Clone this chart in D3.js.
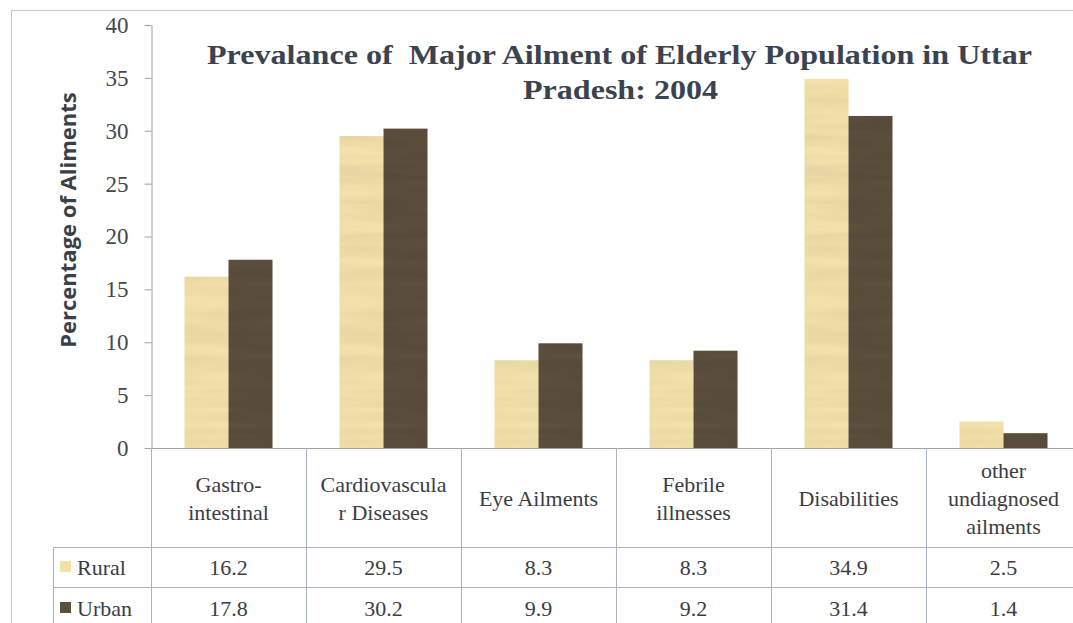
<!DOCTYPE html>
<html lang="en">
<head>
<meta charset="UTF-8">
<title>Prevalance of Major Ailment</title>
<script src="https://d3js.org/d3.v7.min.js"></script>
<style>
    body { margin:0; background:#fff; }
    svg { display:block; }
</style>
</head>
<body>
<svg width="1073" height="623"></svg>
<script>
    // data
    const categories = [["Gastro-", "intestinal"], ["Cardiovascula", "r Diseases"], ["Eye Ailments"],
                        ["Febrile", "illnesses"], ["Disabilities"], ["other", "undiagnosed", "ailments"]];
    const series = ["Rural", "Urban"];
    const rural = [16.2, 29.5, 8.3, 8.3, 34.9, 2.5];
    const urban = [17.8, 30.2, 9.9, 9.2, 31.4, 1.4];
    const yTicks = [0, 5, 10, 15, 20, 25, 30, 35, 40];
    const colors = {Rural: "#f3e1aa", Urban: "#5c4f3e"};

    const SERIF = "Liberation Serif";
    const svg = d3.select("svg");
    const lineCol = "#aab1c3";
    const textCol = "#3a3d44";

    // outer frame
    svg.append("rect").attr("x", 11.5).attr("y", 10.5).attr("width", 1080).attr("height", 640)
        .attr("fill", "none").attr("stroke", "#c4c8d2").attr("stroke-width", 1);

    // wood-ish texture
    const defs = svg.append("defs");
    const f = defs.append("filter").attr("id", "grain").attr("x", 0).attr("y", 0).attr("width", 1).attr("height", 1);
    f.append("feTurbulence").attr("type", "fractalNoise").attr("baseFrequency", "0.01 0.1")
        .attr("numOctaves", 2).attr("seed", 3).attr("result", "noise");
    f.append("feColorMatrix").attr("in", "noise").attr("type", "matrix")
        .attr("values", "0 0 0 0 0  0 0 0 0 0  0 0 0 0 0  0 0 0 0.22 -0.07").attr("result", "shade");
    f.append("feComposite").attr("in", "shade").attr("in2", "SourceGraphic").attr("operator", "in").attr("result", "s2");
    const m = f.append("feMerge");
    m.append("feMergeNode").attr("in", "SourceGraphic");
    m.append("feMergeNode").attr("in", "s2");

    const left = 151, colW = 155, base = 448, plotTop = 25;
    const x = d3.scaleBand().domain(d3.range(categories.length))
        .range([left, left + colW * categories.length]).padding(0);
    const xs = d3.scaleBand().domain(series).range([33.5, 121.5]).padding(0);
    const y = d3.scaleLinear().domain([0, 40]).range([base, plotTop]);

    // y axis
    const yAxis = d3.axisLeft(y).tickValues(yTicks).tickSize(7).tickPadding(16).tickSizeOuter(0);
    const ga = svg.append("g").attr("transform", `translate(${left + 0.5},0)`).call(yAxis)
        .attr("font-family", SERIF).attr("font-size", 23);
    ga.select(".domain").attr("stroke", "#9aa0ad");
    ga.selectAll(".tick line").attr("stroke", "#9aa0ad");
    ga.selectAll(".tick text").attr("fill", "#44474d");

    // y label
    svg.append("text")
        .attr("transform", "translate(76,220) rotate(-90)")
        .attr("text-anchor", "middle")
        .attr("font-family", "Open Sans").attr("font-weight", "bold").attr("font-size", 22)
        .attr("fill", "#3b3f47")
        .text("Percentage of Aliments");

    // title (the original is set wide, so stretch to its measured widths)
    const title = svg.append("text")
        .attr("font-family", SERIF).attr("font-weight", "bold").attr("font-size", 28)
        .attr("fill", "#3b4350");
    title.append("tspan").attr("x", 207).attr("y", 64)
        .attr("textLength", 825).attr("lengthAdjust", "spacingAndGlyphs")
        .text("Prevalance of\u00a0 Major Ailment of Elderly Population in Uttar");
    title.append("tspan").attr("x", 523).attr("y", 99)
        .attr("textLength", 195).attr("lengthAdjust", "spacingAndGlyphs")
        .text("Pradesh: 2004");

    // bars
    const data = categories.map((c, i) => ({i, Rural: rural[i], Urban: urban[i]}));
    svg.append("g").selectAll("g").data(data).join("g")
        .attr("transform", d => `translate(${x(d.i)},0)`)
        .selectAll("rect").data(d => series.map(s => ({s, v: d[s]}))).join("rect")
        .attr("x", d => xs(d.s)).attr("width", xs.bandwidth())
        .attr("y", d => y(d.v)).attr("height", d => base - y(d.v))
        .attr("fill", d => colors[d.s]).attr("filter", "url(#grain)");

    // data table
    const rowTop = [base, 547, 587, 627];
    const right = left + colW * categories.length;
    const tbl = svg.append("g").attr("stroke", lineCol).attr("stroke-width", 1).attr("fill", "none");
    tbl.append("line").attr("x1", left).attr("x2", right).attr("y1", base + 0.5).attr("y2", base + 0.5).attr("stroke", "#9aa0ad");
    [rowTop[1], rowTop[2], rowTop[3]].forEach(yy =>
        tbl.append("line").attr("x1", 53).attr("x2", right).attr("y1", yy + 0.5).attr("y2", yy + 0.5));
    tbl.append("line").attr("x1", 53.5).attr("x2", 53.5).attr("y1", rowTop[1]).attr("y2", 640);
    d3.range(categories.length + 1).forEach(k => {
        const xx = left + colW * k + 0.5;
        tbl.append("line").attr("x1", xx).attr("x2", xx).attr("y1", base).attr("y2", 640);
    });

    // header labels
    svg.append("g").selectAll("text").data(categories).join("text")
        .attr("text-anchor", "middle")
        .attr("font-family", SERIF).attr("font-size", 22).attr("fill", textCol)
        .each(function (lines, i) {
            const cx = x(i) + colW / 2;
            const lh = 28, mid = 499;
            const y0 = mid - (lines.length - 1) * lh / 2 + 7;
            d3.select(this).selectAll("tspan").data(lines).join("tspan")
                .attr("x", cx).attr("y", (l, j) => y0 + j * lh).text(l => l);
        });

    // value rows with legend keys
    const rows = [{s: "Rural", vals: rural, cy: 567}, {s: "Urban", vals: urban, cy: 608}];
    rows.forEach(r => {
        svg.append("rect").attr("x", 60).attr("y", r.cy - 6).attr("width", 11).attr("height", 11)
            .attr("fill", colors[r.s]);
        svg.append("text").attr("x", 77).attr("y", r.cy + 8)
            .attr("font-family", SERIF).attr("font-size", 22).attr("fill", textCol).text(r.s);
        svg.append("g").selectAll("text").data(r.vals).join("text")
            .attr("text-anchor", "middle")
            .attr("font-family", SERIF).attr("font-size", 22).attr("fill", textCol)
            .attr("x", (v, i) => x(i) + colW / 2).attr("y", r.cy + 8)
            .text(v => d3.format(".1f")(v));
    });
</script>
</body>
</html>
